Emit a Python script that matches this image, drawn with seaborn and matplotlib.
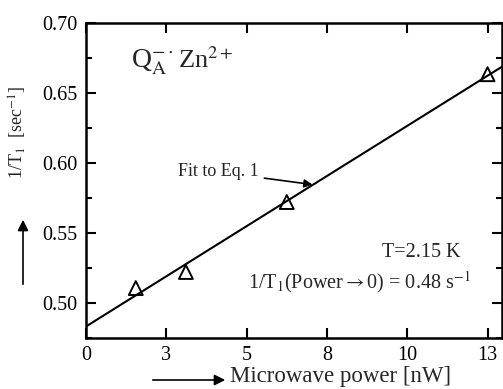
import numpy as np
import pandas as pd
import matplotlib
matplotlib.use("Agg")
import matplotlib.pyplot as plt
import seaborn as sns

# data
power = [1.55, 3.11, 6.25, 12.5]
rate = [0.5105, 0.522, 0.572, 0.6634]
xtick_pos = [0, 2.5, 5, 7.5, 10, 12.5]
xtick_labels = ["0", "3", "5", "8", "10", "13"]
ytick_pos = [0.50, 0.55, 0.60, 0.65, 0.70]
ytick_labels = ["0.50", "0.55", "0.60", "0.65", "0.70"]

sns.set_theme(style="ticks")
plt.rcParams['font.family'] = ['Liberation Serif', 'DejaVu Serif']
plt.rcParams['mathtext.fontset'] = 'stix'

fig = plt.figure(figsize=(5.03, 3.89), dpi=100)
ax = fig.add_axes([86/503, 1-338/389, (502-86)/503, (338-23)/389])

xmin, xmax = 0, 12.95
ymin, ymax = 0.4748, 0.70

slope, intercept = np.polyfit(power, rate, 1)
fit_x = np.array([xmin, xmax])
df_fit = pd.DataFrame({"x": fit_x, "y": intercept + slope * fit_x})
sns.lineplot(data=df_fit, x="x", y="y", color="black", linewidth=1.5, ax=ax)

df = pd.DataFrame({"power": power, "rate": rate})
sns.scatterplot(data=df, x="power", y="rate", marker="^", s=100, ax=ax, zorder=3)
for c in ax.collections:
    c.set_facecolor("none")
    c.set_edgecolor("black")
    c.set_linewidth(1.4)

ax.set_xlim(xmin, xmax)
ax.set_ylim(ymin, ymax)
ax.set_xticks(xtick_pos)
ax.set_xticklabels(xtick_labels)
ax.set_yticks(ytick_pos)
ax.set_yticklabels(ytick_labels)
ax.set_yticks(np.arange(0.475, 0.70, 0.05), minor=True)
ax.set_xlabel("")
ax.set_ylabel("")
for s in ax.spines.values():
    s.set_visible(True)
    s.set_linewidth(1.8)
    s.set_color("black")
ax.tick_params(which="both", direction="in", top=True, right=True, width=1.5,
               labelsize=14.5, colors="black")
ax.tick_params(which="major", length=7, pad=6)
ax.tick_params(which="minor", length=4)

# annotations inside axes
ax.text(1.40, 0.668, r"Q$_\mathrm{A}^{-\cdot}$", fontsize=20, ha="left", va="baseline")
ax.text(2.85, 0.668, r"Zn$^{2+}$", fontsize=19, ha="left", va="baseline")
ax.annotate("Fit to Eq. 1", xy=(7.05, 0.5845), xytext=(2.85, 0.5935), fontsize=13,
            ha="left", va="center",
            arrowprops=dict(arrowstyle="-|>", color="black", lw=1.2, mutation_scale=12,
                            shrinkA=2, shrinkB=0))
ax.text(9.20, 0.5325, "T=2.15 K", fontsize=14.5, ha="left", va="baseline")
ax.text(5.05, 0.5105, r"1/T$_1$(Power$\rightarrow$0) = 0.48 s$^{-1}$", fontsize=14.5,
        ha="left", va="baseline")

# axis labels with arrows
fig.text(18/503, 1-133/389, r"1/T$_1$  [sec$^{-1}$]", rotation=90, fontsize=13,
         ha="center", va="center")
fig.text(230/503, 1-387/389, "Microwave power [nW]", fontsize=16.5, ha="left", va="bottom")
fig.add_artist(matplotlib.patches.FancyArrowPatch(
    (23/503, 1-287/389), (23/503, 1-217/389), transform=fig.transFigure,
    arrowstyle="-|>", mutation_scale=16, color="black", lw=1.2))
fig.add_artist(matplotlib.patches.FancyArrowPatch(
    (150/503, 1-380/389), (228/503, 1-380/389), transform=fig.transFigure,
    arrowstyle="-|>", mutation_scale=16, color="black", lw=1.2))

fig.savefig("out.png", dpi=100)
